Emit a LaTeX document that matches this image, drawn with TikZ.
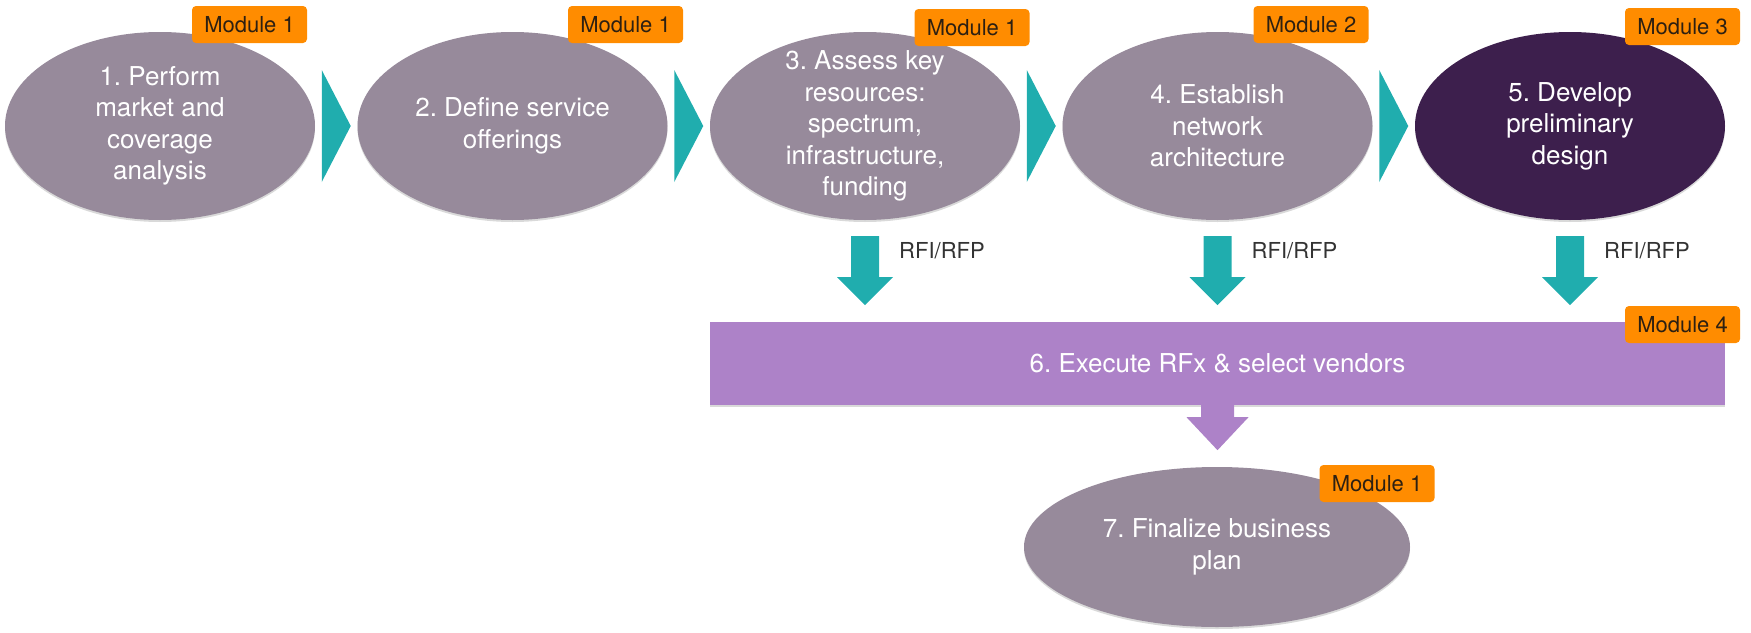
\documentclass[tikz,border=0pt]{standalone}
\usepackage{fontspec}
\setmainfont{TeX Gyre Heros}
\usetikzlibrary{shapes.geometric, calc, shadows}
\frenchspacing

\definecolor{stagegray}{RGB}{151,138,155}
\definecolor{stagedark}{RGB}{61,31,77}
\definecolor{flowteal}{RGB}{32,173,174}
\definecolor{rfxpurple}{RGB}{173,130,200}
\definecolor{tagorange}{RGB}{255,140,0}
\definecolor{tagtext}{RGB}{45,32,18}

\tikzset{
  stage/.style={ellipse, fill=stagegray, text=white, align=center, inner sep=0pt,
    minimum width=310pt, minimum height=188pt, font=\fontsize{26}{31.5}\selectfont,
    drop shadow={opacity=.3, shadow xshift=0pt, shadow yshift=-2pt}},
  module/.style={rectangle, rounded corners=4pt, fill=tagorange, text=tagtext,
    minimum width=115pt, minimum height=37pt, inner sep=0pt, font=\fontsize{22}{26}\selectfont},
  chevron/.style={fill=flowteal},
  rfx/.style={fill=flowteal},
  rfxlabel/.style={anchor=west, text=black!80, inner sep=0pt, font=\fontsize{22}{26}\selectfont},
}

\begin{document}
\begin{tikzpicture}[x=1pt, y=-1pt]
    \useasboundingbox (0,0) rectangle (1751,632);
    % planning steps
    \node (stage1)  at (160,126)    [stage] {1. Perform\\market and\\coverage\\analysis};
    \node (stage2)  at (512.5,126)  [stage] {2. Define service\\offerings};
    \node (stage3)  at (865,126)    [stage, inner ysep=-12pt] {3. Assess key\\resources:\\spectrum,\\infrastructure,\\funding};
    \node (stage4)  at (1217.5,126) [stage] {4. Establish\\network\\architecture};
    \node (stage5)  at (1570,126)   [stage, fill=stagedark] {5. Develop\\preliminary\\design};
    \node (execute) at (1217.5,363.5) [rectangle, fill=rfxpurple, text=white, minimum width=1015pt, minimum height=83pt,
        font=\fontsize{26}{31.5}\selectfont, drop shadow={opacity=.3, shadow xshift=0pt, shadow yshift=-2pt}] {6. Execute RFx \& select vendors};
    \node (stage7)  at (1217,547)   [stage, minimum width=386pt, minimum height=160pt] {7. Finalize business\\plan};
    % arrows
    \foreach \a/\b in {1/2,2/3,3/4,4/5}
        \fill[chevron] ($(stage\a.east)!.5!(stage\b.west)$) ++(-14.5,-56) -- ++(29,56) -- ++(-29,56) -- cycle;
    \foreach \n in {3,4,5} {
        \fill[rfx] (stage\n.south) ++(-14,16) -- ++(28,0) -- ++(0,41) -- ++(14,0) -- ++(-28,28) -- ++(-28,-28) -- ++(14,0) -- cycle;
        \node (rfi\n) at ($(stage\n.south)+(34,30)$) [rfxlabel] {RFI/RFP};
    }
    \fill[rfxpurple] (execute.south) ++(-16.5,0) -- ++(33,0) -- ++(0,12) -- ++(14.5,0) -- ++(-31,33) -- ++(-31,-33) -- ++(14.5,0) -- cycle;
    % modules
    \node (mod1) at (249.5,24.5)   [module] {Module 1};
    \node (mod2) at (625.5,24.5)   [module] {Module 1};
    \node (mod3) at (972,27.5)     [module] {Module 1};
    \node (mod4) at (1311,24.5)    [module] {Module 2};
    \node (mod5) at (1682.5,26.5)  [module] {Module 3};
    \node (mod6) at (1682.5,324.5) [module] {Module 4};
    \node (mod7) at (1377,483.5)   [module] {Module 1};
\end{tikzpicture}
\end{document}
